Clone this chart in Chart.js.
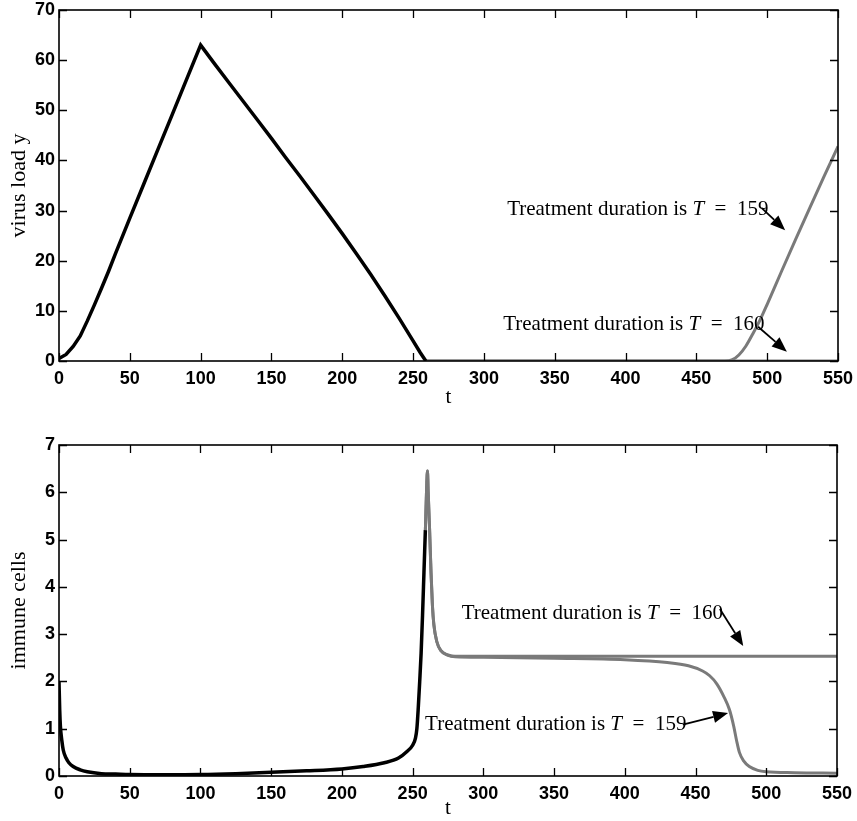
<!DOCTYPE html>
<html>
<head>
<meta charset="utf-8">
<script src="https://cdn.jsdelivr.net/npm/chart.js@4.4.0/dist/chart.umd.min.js"></script>
<style>
  html, body { margin: 0; padding: 0; background: #fff; }
  .box { position: absolute; left: 0; width: 857px; }
  #top { top: 0; height: 410px; }
  #bottom { top: 410px; height: 411px; }
</style>
</head>
<body>
<div class="box" id="top"><canvas id="virusChart" width="857" height="410"></canvas></div>
<div class="box" id="bottom"><canvas id="immuneChart" width="857" height="411"></canvas></div>
<script>
// top panel: virus load
const tVirusBlack = [0, 5, 10, 15, 20, 25, 30, 35, 40, 50, 60, 70, 80, 90, 100, 110, 120, 130, 140, 150,
  160, 170, 180, 190, 200, 210, 220, 230, 240, 250, 255, 259];
const virusBlack = [0.5, 1.3, 2.9, 5.0, 8.0, 11.2, 14.5, 17.9, 21.5, 28.5, 35.4, 42.3, 49.2, 56.1, 63.0, 59.2, 55.5, 51.8, 48.1, 44.4,
  40.6, 36.9, 33.1, 29.3, 25.4, 21.4, 17.3, 13.0, 8.6, 4.0, 1.7, 0];
const tVirusGray = [259, 300, 350, 400, 450, 470, 475, 480, 485, 490, 495, 500, 510, 520, 530, 540, 550];
const virus159 = [0, 0, 0, 0, 0, 0, 0.2, 1.2, 3.0, 5.5, 8.2, 11.3, 17.8, 24.2, 30.5, 36.7, 42.8];
const virus160 = [0, 0, 0, 0, 0, 0, 0, 0, 0, 0, 0, 0, 0, 0, 0, 0, 0];

// bottom panel: immune cells
const tImmuneBlack = [0, 0.5, 1, 2, 3, 5, 7, 10, 15, 20, 30, 40, 50, 75, 100, 125, 150, 175, 200, 215,
  230, 240, 246, 250, 252, 253, 254, 255, 256, 257, 258, 259];
const immuneBlack = [2.0, 1.4, 1.05, 0.75, 0.55, 0.38, 0.28, 0.2, 0.13, 0.09, 0.05, 0.04, 0.03, 0.025, 0.03, 0.05, 0.08, 0.11, 0.15, 0.2,
  0.28, 0.38, 0.52, 0.65, 0.8, 1.0, 1.45, 2.0, 2.6, 3.4, 4.3, 5.2];
const tImmuneGray = [259, 260, 260.5, 261, 262, 263, 264, 265, 267, 270, 275, 280, 300, 350, 400, 430, 445, 455, 460, 465,
  470, 474, 477, 479, 481, 484, 488, 494, 500, 520, 550];
const immune159 = [5.2, 6.2, 6.45, 6.0, 5.2, 4.3, 3.6, 3.2, 2.85, 2.65, 2.55, 2.52, 2.51, 2.49, 2.46, 2.4, 2.33, 2.22, 2.12, 1.95,
  1.68, 1.4, 1.05, 0.75, 0.5, 0.32, 0.2, 0.12, 0.09, 0.07, 0.06];
const immune160 = [5.2, 6.2, 6.45, 6.0, 5.2, 4.3, 3.6, 3.2, 2.85, 2.65, 2.56, 2.53, 2.53, 2.53, 2.53, 2.53, 2.53, 2.53, 2.53, 2.53,
  2.53, 2.53, 2.53, 2.53, 2.53, 2.53, 2.53, 2.53, 2.53, 2.53, 2.53];

const xTicks = [0, 50, 100, 150, 200, 250, 300, 350, 400, 450, 500, 550];

const pts = (xs, ys) => xs.map((x, i) => ({ x: x, y: ys[i] }));

const tickFont = { family: "'Liberation Sans', Arial, sans-serif", size: 18, weight: "bold" };
const serif = "'Liberation Serif', 'Times New Roman', serif";

// box around the axes with matlab-like inward ticks
const framePlugin = {
  id: "frame",
  afterDatasetsDraw(chart) {
    const { ctx, chartArea: a, scales: { x, y } } = chart;
    ctx.save();
    ctx.strokeStyle = "#000";
    ctx.lineWidth = 1.6;
    ctx.strokeRect(a.left, a.top, a.right - a.left, a.bottom - a.top);
    ctx.lineWidth = 1.3;
    ctx.beginPath();
    x.ticks.forEach((t) => {
      const px = Math.round(x.getPixelForValue(t.value)) + 0.5;
      ctx.moveTo(px, a.bottom); ctx.lineTo(px, a.bottom - 8);
      ctx.moveTo(px, a.top); ctx.lineTo(px, a.top + 8);
    });
    y.ticks.forEach((t) => {
      const py = Math.round(y.getPixelForValue(t.value)) + 0.5;
      ctx.moveTo(a.left, py); ctx.lineTo(a.left + 8, py);
      ctx.moveTo(a.right, py); ctx.lineTo(a.right - 8, py);
    });
    ctx.stroke();
    ctx.restore();
  },
};

// "Treatment duration is T = ..." labels with arrows
const notesPlugin = {
  id: "notes",
  afterDatasetsDraw(chart, args, opts) {
    const { ctx, scales: { x, y } } = chart;
    ctx.save();
    (opts.items || []).forEach((n) => {
      let px = x.getPixelForValue(n.x);
      const py = y.getPixelForValue(n.y);
      ctx.fillStyle = "#000";
      ctx.textBaseline = "middle";
      ctx.textAlign = "left";
      const s1 = "Treatment duration is ";
      ctx.font = "21px " + serif;
      ctx.fillText(s1, px, py);
      px += ctx.measureText(s1).width;
      ctx.font = "italic 21px " + serif;
      ctx.fillText("T", px, py);
      px += ctx.measureText("T").width;
      ctx.font = "21px " + serif;
      ctx.fillText("  =  " + n.label, px, py);

      const x1 = x.getPixelForValue(n.from[0]), y1 = y.getPixelForValue(n.from[1]);
      const x2 = x.getPixelForValue(n.to[0]), y2 = y.getPixelForValue(n.to[1]);
      const ang = Math.atan2(y2 - y1, x2 - x1);
      const hl = 15, hw = 6;
      ctx.strokeStyle = "#000";
      ctx.lineWidth = 1.8;
      ctx.beginPath();
      ctx.moveTo(x1, y1);
      ctx.lineTo(x2 - hl * Math.cos(ang), y2 - hl * Math.sin(ang));
      ctx.stroke();
      ctx.beginPath();
      ctx.moveTo(x2, y2);
      ctx.lineTo(x2 - hl * Math.cos(ang) + hw * Math.sin(ang), y2 - hl * Math.sin(ang) - hw * Math.cos(ang));
      ctx.lineTo(x2 - hl * Math.cos(ang) - hw * Math.sin(ang), y2 - hl * Math.sin(ang) + hw * Math.cos(ang));
      ctx.closePath();
      ctx.fill();
    });
    ctx.restore();
  },
};

function makeChart(id, cfg) {
  const ctx = document.getElementById(id).getContext("2d");
  return new Chart(ctx, {
    type: "line",
    data: {
      datasets: [
        {
          data: cfg.black,
          borderColor: "#000",
          borderWidth: 3.5,
          pointRadius: 0,
          tension: 0,
          cubicInterpolationMode: cfg.smooth ? "monotone" : "default",
        },
        {
          data: cfg.gray159,
          borderColor: "#7a7a7a",
          borderWidth: 3,
          pointRadius: 0,
          cubicInterpolationMode: "monotone",
        },
        {
          data: cfg.gray160,
          borderColor: "#7a7a7a",
          borderWidth: 3,
          pointRadius: 0,
          cubicInterpolationMode: "monotone",
        },
      ],
    },
    options: {
      responsive: false,
      animation: false,
      layout: { padding: cfg.padding },
      plugins: {
        legend: { display: false },
        tooltip: { enabled: false },
        notes: { items: cfg.notes },
      },
      scales: {
        x: {
          type: "linear",
          min: 0,
          max: 550,
          afterBuildTicks: (s) => { s.ticks = xTicks.map((v) => ({ value: v })); },
          afterFit: (s) => { s.height = cfg.xHeight; s.paddingLeft = 0; s.paddingRight = 0; },
          grid: { display: false, drawTicks: false },
          border: { display: false },
          ticks: { font: tickFont, color: "#000", padding: 7, maxRotation: 0 },
          title: { display: true, text: "t", color: "#000", font: { family: serif, size: 21 }, padding: { top: 0, bottom: cfg.tPad } },
        },
        y: {
          min: 0,
          max: cfg.yMax,
          afterBuildTicks: (s) => { s.ticks = cfg.yTicks.map((v) => ({ value: v })); },
          afterFit: (s) => { s.width = 59; s.paddingTop = 0; s.paddingBottom = 0; },
          grid: { display: false, drawTicks: false },
          border: { display: false },
          ticks: { font: tickFont, color: "#000", padding: 4 },
          title: { display: true, text: cfg.yTitle, color: "#000", font: { family: serif, size: 22 }, padding: { top: 6, bottom: 0 } },
        },
      },
    },
    plugins: [framePlugin, notesPlugin],
  });
}

makeChart("virusChart", {
  black: pts(tVirusBlack, virusBlack),
  gray159: pts(tVirusGray, virus159),
  gray160: pts(tVirusGray, virus160),
  smooth: false,
  yMax: 70,
  yTicks: [0, 10, 20, 30, 40, 50, 60, 70],
  yTitle: "virus load y",
  padding: { top: 10, right: 19, left: 0, bottom: 0 },
  xHeight: 49,
  tPad: 0,
  notes: [
    { x: 316.4, y: 30.3, label: "159", from: [496.2, 30.5], to: [512.7, 26.1] },
    { x: 313.6, y: 7.37, label: "160", from: [493.6, 6.83], to: [513.9, 1.85] },
  ],
});

makeChart("immuneChart", {
  black: pts(tImmuneBlack, immuneBlack),
  gray159: pts(tImmuneGray, immune159),
  gray160: pts(tImmuneGray, immune160),
  smooth: true,
  yMax: 7,
  yTicks: [0, 1, 2, 3, 4, 5, 6, 7],
  yTitle: "immune cells",
  padding: { top: 35, right: 20, left: 0, bottom: 0 },
  xHeight: 45,
  tPad: 0,
  notes: [
    { x: 284.7, y: 3.43, label: "160", from: [467.2, 3.53], to: [483.7, 2.75] },
    { x: 258.8, y: 1.085, label: "159", from: [441, 1.085], to: [473, 1.33] },
  ],
});
</script>
</body>
</html>
